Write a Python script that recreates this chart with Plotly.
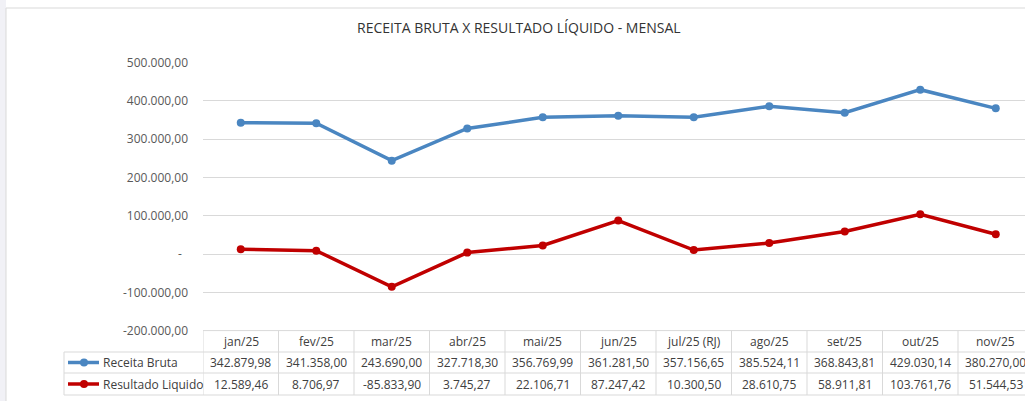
import plotly.graph_objects as go

categories = ["jan/25", "fev/25", "mar/25", "abr/25", "mai/25", "jun/25",
              "jul/25 (RJ)", "ago/25", "set/25", "out/25", "nov/25"]
receita_bruta = [342879.98, 341358.00, 243690.00, 327718.30, 356769.99, 361281.50,
                 357156.65, 385524.11, 368843.81, 429030.14, 380270.00]
resultado_liquido = [12589.46, 8706.97, -85833.90, 3745.27, 22106.71, 87247.42,
                     10300.50, 28610.75, 58911.81, 103761.76, 51544.53]
y_ticks = [-200000, -100000, 0, 100000, 200000, 300000, 400000, 500000]
series_names = ["Receita Bruta", "Resultado Liquido"]
title_text = "RECEITA BRUTA X RESULTADO LÍQUIDO - MENSAL"

W, H = 1025, 401
BLUE = "#4A86C1"
RED = "#C00000"
GRID = "#D9D9D9"
TXT = "#404040"
FONT = "Open Sans, Noto Sans, Liberation Sans, sans-serif"


def br(v):
    s = f"{abs(v):,.2f}".replace(",", "X").replace(".", ",").replace("X", ".")
    return ("-" if v < 0 else "") + s


def PX(x):
    return x / W


def PY(y):
    return 1 - y / H


def tick_label(v):
    if v == 0:
        return "-\u00a0\u00a0"
    return br(v)


# layout geometry (pixels)
plot_left, plot_top, plot_bottom = 203, 62.5, 330.6
cell_w = 75.5
x_end = 10.5 - (plot_left + 11 * cell_w - W) / cell_w
row_h = [330.6, 352, 373, 395]
leg_left = 64

fig = go.Figure()
fig.add_trace(go.Scatter(x=list(range(len(categories))), y=receita_bruta, name=series_names[0],
                         mode="lines+markers", line=dict(color=BLUE, width=3.5),
                         marker=dict(color=BLUE, size=8), cliponaxis=False, hoverinfo="skip"))
fig.add_trace(go.Scatter(x=list(range(len(categories))), y=resultado_liquido, name=series_names[1],
                         mode="lines+markers", line=dict(color=RED, width=3.5),
                         marker=dict(color=RED, size=8), cliponaxis=False, hoverinfo="skip"))

shapes = []
# left slide strip and chart border
shapes.append(dict(type="rect", xref="paper", yref="paper", x0=0, x1=PX(6), y0=0, y1=1,
                   fillcolor="#F1F1F6", line=dict(width=0), layer="below"))
shapes.append(dict(type="line", xref="paper", yref="paper", x0=PX(6), x1=PX(6), y0=0, y1=PY(8),
                   line=dict(color=GRID, width=1)))
shapes.append(dict(type="line", xref="paper", yref="paper", x0=PX(6), x1=1, y0=PY(8), y1=PY(8),
                   line=dict(color=GRID, width=1)))

# table horizontal lines
shapes.append(dict(type="line", xref="paper", yref="paper", x0=PX(plot_left), x1=1,
                   y0=PY(row_h[0]), y1=PY(row_h[0]), line=dict(color=GRID, width=1)))
for yy in row_h[1:]:
    shapes.append(dict(type="line", xref="paper", yref="paper", x0=PX(leg_left), x1=1,
                       y0=PY(yy), y1=PY(yy), line=dict(color=GRID, width=1)))
# table vertical lines
for i in range(len(categories)):
    shapes.append(dict(type="line", xref="x", yref="paper", x0=i - 0.5, x1=i - 0.5,
                       y0=PY(row_h[0]), y1=PY(row_h[3]), line=dict(color=GRID, width=1)))
shapes.append(dict(type="line", xref="paper", yref="paper", x0=PX(leg_left), x1=PX(leg_left),
                   y0=PY(row_h[1]), y1=PY(row_h[3]), line=dict(color=GRID, width=1)))

annotations = []
row_c = [(row_h[k] + row_h[k + 1]) / 2 for k in range(3)]
for i, c in enumerate(categories):
    annotations.append(dict(x=i, xref="x", y=PY(row_c[0]), yref="paper", text=c, showarrow=False,
                            yanchor="middle", font=dict(family=FONT, size=12, color=TXT)))
    annotations.append(dict(x=i, xref="x", y=PY(row_c[1]), yref="paper", text=br(receita_bruta[i]),
                            yanchor="middle", showarrow=False, font=dict(family=FONT, size=12, color=TXT)))
    annotations.append(dict(x=i, xref="x", y=PY(row_c[2]), yref="paper", text=br(resultado_liquido[i]),
                            yanchor="middle", showarrow=False, font=dict(family=FONT, size=12, color=TXT)))

# legend keys inside table
for k, (nm, col) in enumerate(zip(series_names, [BLUE, RED])):
    yc = PY(row_c[k + 1])
    shapes.append(dict(type="line", xref="paper", yref="paper", x0=PX(68), x1=PX(99), y0=yc, y1=yc,
                       line=dict(color=col, width=3.5)))
    shapes.append(dict(type="circle", xref="paper", yref="paper", x0=PX(80), x1=PX(88),
                       y0=yc - 4 / H, y1=yc + 4 / H, fillcolor=col, line=dict(color=col, width=0)))
    annotations.append(dict(x=PX(101), xref="paper", y=yc, yref="paper", text=nm, xanchor="left",
                            yanchor="middle", showarrow=False, font=dict(family=FONT, size=12, color=TXT)))

annotations.append(dict(x=PX(519), xref="paper", y=PY(28), yref="paper", text=title_text,
                        yanchor="middle", showarrow=False, font=dict(family=FONT, size=14, color="#333333")))

fig.update_layout(
    width=W, height=H, margin=dict(l=0, r=0, t=0, b=0, autoexpand=False),
    paper_bgcolor="white", plot_bgcolor="white", showlegend=False,
    shapes=shapes, annotations=annotations,
    xaxis=dict(domain=[PX(plot_left), 1], range=[-0.5, x_end], showgrid=False, zeroline=False,
               showticklabels=False, showline=False, fixedrange=True, automargin=False),
    yaxis=dict(domain=[PY(plot_bottom), PY(plot_top)], range=[-200000, 500000],
               tickvals=y_ticks, ticktext=[tick_label(v) for v in y_ticks],
               showgrid=True, gridcolor=GRID, gridwidth=1, zeroline=False, showline=False,
               ticks="", ticklabelstandoff=14, automargin=False, fixedrange=True,
               tickfont=dict(family=FONT, size=12, color="#595959")),
)

# The page is written with a plain div; the body margin is removed so the
# 1025x401 figure fills the 1025x401 window exactly without scrolling.
fig.write_html("out.html", config={"displayModeBar": False, "staticPlot": True},
               post_script=("var s=document.createElement('style');"
                            "s.textContent='html,body{margin:0;padding:0;overflow:hidden;}"
                            "::-webkit-scrollbar{display:none;width:0;height:0;}';"
                            "document.head.appendChild(s);"))
